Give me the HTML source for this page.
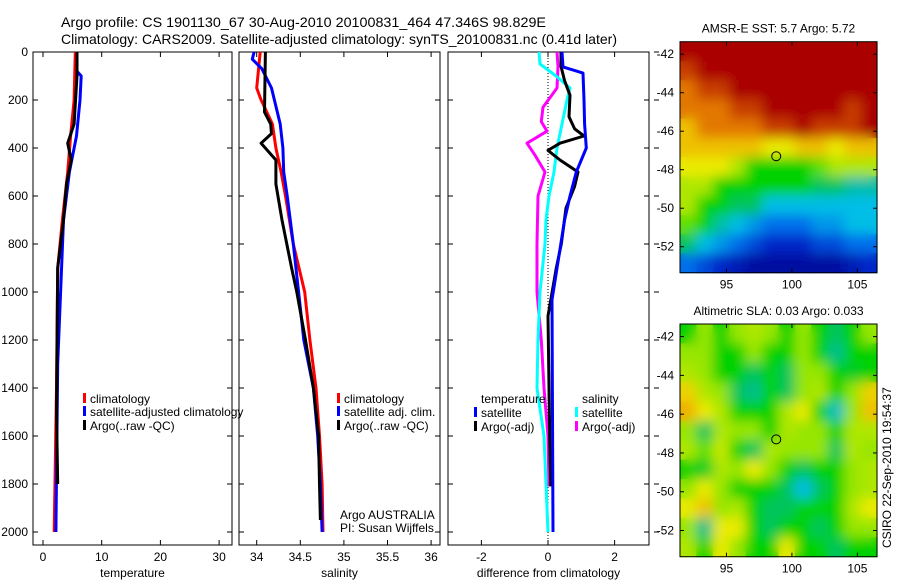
<!DOCTYPE html>
<html><head><meta charset="utf-8"><style>
html,body{margin:0;padding:0;background:#fff;}
svg{display:block;font-family:"Liberation Sans",sans-serif;}
</style></head><body>
<svg id="c" width="900" height="580" viewBox="0 0 900 580" xmlns="http://www.w3.org/2000/svg">
<defs>
<filter id="blur" x="-5%" y="-5%" width="110%" height="110%"><feGaussianBlur stdDeviation="6"/></filter>
<clipPath id="clip1"><rect x="680" y="41.7" width="197" height="231"/></clipPath>
<clipPath id="clip2"><rect x="680" y="324" width="197" height="232.7"/></clipPath>
</defs>
<text x="61" y="27" font-size="14" textLength="485" lengthAdjust="spacingAndGlyphs">Argo profile: CS 1901130_67 30-Aug-2010 20100831_464 47.346S 98.829E</text>
<text x="61" y="44" font-size="14" textLength="556" lengthAdjust="spacingAndGlyphs">Climatology: CARS2009. Satellite-adjusted climatology: synTS_20100831.nc (0.41d later)</text>
<g id="g"></g>
</svg>
<script>
// ---- depth levels and profiles ----
const depthTickLabels=[0,200,400,600,800,1000,1200,1400,1600,1800,2000];
const tempTicks=[0,10,20,30];
const salTicks=[34,34.5,35,35.5,36];
const diffTicks=[-2,0,2];
const tClimD=[0,200,350,500,700,900,1400,2000];
const tClimV=[5.5,5.3,4.7,4.2,3.3,2.5,2.3,1.9];
const tSatD=[0,80,100,200,350,500,700,1000,1300,2000];
const tSatV=[5.8,5.8,6.5,6.3,5.7,4.5,3.5,3.0,2.5,2.2];
const tArgoD=[0,100,300,380,450,550,700,900,1500,1800];
const tArgoV=[5.8,5.8,5.3,4.2,4.8,4.0,3.5,2.5,2.3,2.5];
const sClimD=[0,150,200,300,400,500,600,800,1000,1200,1400,1600,1800,2000];
const sClimV=[34.04,34.0,34.05,34.18,34.22,34.28,34.33,34.42,34.55,34.61,34.68,34.72,34.75,34.76];
const sSatD=[0,30,70,150,300,400,500,600,800,1000,1200,1400,1600,1800,2000];
const sSatV=[33.97,33.95,34.06,34.17,34.27,34.3,34.31,34.35,34.42,34.48,34.54,34.65,34.7,34.73,34.75];
const sArgoD=[0,250,300,340,380,450,550,700,900,1000,1200,1400,1600,1800,1950];
const sArgoV=[34.1,34.09,34.16,34.17,34.05,34.22,34.22,34.29,34.4,34.46,34.56,34.65,34.71,34.72,34.73];
const dTSatD=[0,62,88,200,300,400,500,600,700,1033,2000];
const dTSatV=[0.42,0.45,1.05,1.08,1.1,1.15,0.85,0.66,0.5,0.12,0.15];
const dTArgoD=[0,60,120,180,270,320,350,380,410,450,500,560,650,800,900,1100,1600,1810];
const dTArgoV=[0.39,0.39,0.5,0.66,0.63,0.8,1.08,0.36,0,0.36,0.9,0.8,0.54,0.4,0.25,0,0.05,0.08];
const dSSatD=[0,50,100,150,200,300,400,500,600,700,800,1000,1200,1400,1600,1800,2000];
const dSSatV=[-0.27,-0.24,0.24,0.66,0.57,0.42,0.27,0.18,0.03,-0.06,-0.09,-0.24,-0.3,-0.33,-0.12,-0.06,0];
const dSArgoD=[0,60,150,230,290,330,380,430,500,600,800,1000,1200,1400,1600,1810];
const dSArgoV=[0.27,0.3,0.27,-0.15,-0.2,-0.03,-0.63,-0.39,-0.09,-0.3,-0.33,-0.33,-0.2,-0.12,0,0.03];
// ---- map grids (0=dark blue .. 10=dark red) ----
const sstRows=[
[10,10,10,10,10,10,10,10,10,10,10,10],
[9,10,10,10,10,10,10,10,10,10,10,10],
[8,9,9,10,10,10,10,10,10,10,10,10],
[8,8,8,9,9,10,10,10,10,10,9,10],
[7,8,8,8,8,9,9,10,9,9,9,10],
[7,7,7,7,7,6.5,6.5,7,7,6.5,7,7],
[6.5,6.5,6.5,6,5,5,5,5,5.5,6,6,6],
[6,6,5,5,5,5,5,5,4.5,4.5,4,4],
[6,5,5,4.5,4.5,3.5,3.5,3.5,3.5,3.5,3.5,3.5],
[5.5,5,4,3.5,3,2.5,2.5,2.5,3,3,3.5,3.5],
[4.5,3.5,3,2.5,2,1.5,1.5,1.5,2,2,2.5,2.5],
[2.5,2,1.5,1,0.5,0.5,0.5,0.5,0.5,0.5,1,1.5]];
const slaRows=[
[5,5.8,5,5.8,6,5.8,5,5.8,5,4.5,5,5.8],
[5.8,5.8,5,5,5.8,5,5,5.8,5,4.2,5,5],
[6,5.8,5,5,4.5,5,4.5,5.8,5.8,5,4.8,5],
[6.8,6,5.8,4.5,4.2,5,4.5,5.8,6,5,5.8,6.8],
[7.2,6.5,6,5,5,5,6,6.5,5,3.8,5.8,7],
[5.8,4.5,6,5.8,5.8,5,6,5.8,5.8,5,6,6],
[6,5.5,6.2,5,4.5,6,5.8,5.8,5.8,4.5,6,5.8],
[5,4.8,6,5.8,6.5,5.8,5,4.5,5,5,5.8,6],
[5.8,6.5,5.8,5,5,5,4.5,3.5,4.5,5,5.8,6],
[6.5,7,5.8,6,5,4.5,4.5,5,5,5,6,6.5],
[5.8,4.2,6.5,6.5,5,4.5,5,5,4.5,5,5.8,5.8],
[6,5,6.5,5.8,5,5,6.5,5,5,4.5,5,5]];
const mapLatTicks=[-42,-44,-46,-48,-50,-52];
const mapLonTicks=[95,100,105];
const argoLon=98.8, argoLat=-47.3;

const NS="http://www.w3.org/2000/svg";
const G=document.getElementById('g');
function mk(t,a,p){const e=document.createElementNS(NS,t);for(const k in a)e.setAttribute(k,a[k]);(p||G).appendChild(e);return e;}
const yD=d=>52+d*0.24;
const panels=[
 {x0:33,x1:232,f:v=>43+v*5.87,ticks:tempTicks,label:'temperature',name:'temperature-panel'},
 {x0:239,x1:440,f:v=>256.7+(v-34)*87.2,ticks:salTicks,label:'salinity',name:'salinity-panel'},
 {x0:448,x1:649,f:v=>548+v*33.3,ticks:diffTicks,label:'difference from climatology',name:'difference-panel'}];
panels.forEach((p,i)=>{
  const g=mk('g',{});
  
  
  mk('rect',{x:p.x0,y:52,width:p.x1-p.x0,height:493,fill:'none',stroke:'#000','stroke-width':1},g);
  depthTickLabels.forEach(d=>{const y=yD(d);
    mk('line',{x1:p.x0,x2:p.x0+5,y1:y,y2:y,stroke:'#000'},g);
    mk('line',{x1:p.x1,x2:p.x1-5,y1:y,y2:y,stroke:'#000'},g);
    if(i===0){const t=mk('text',{x:28,y:y+4,'font-size':12,'text-anchor':'end'},g);t.textContent=d;}
    if(i===2){mk('line',{x1:654,x2:659,y1:y,y2:y,stroke:'#000'},g);}
  });
  p.ticks.forEach(v=>{const x=p.f(v);
    mk('line',{x1:x,x2:x,y1:545,y2:540,stroke:'#000'},g);
    mk('line',{x1:x,x2:x,y1:52,y2:57,stroke:'#000'},g);
    const t=mk('text',{x:x,y:561,'font-size':12,'text-anchor':'middle'},g);t.textContent=v;});
  const t=mk('text',{x:(p.x0+p.x1)/2,y:577,'font-size':12,'text-anchor':'middle'},g);t.textContent=p.label;
});
mk('line',{x1:548,x2:548,y1:52,y2:545,stroke:'#000','stroke-dasharray':'1,2'});
function prof(D,V,f,col,name){
  const pts=D.map((d,k)=>f(V[k]).toFixed(1)+','+yD(d).toFixed(1)).join(' ');
  const e=mk('polyline',{points:pts,fill:'none',stroke:col,'stroke-width':3,'stroke-linejoin':'round'});
  
  
}
const fT=panels[0].f,fS=panels[1].f,fD=panels[2].f;
prof(tClimD,tClimV,fT,'#f00','temp-climatology-line');
prof(tSatD,tSatV,fT,'#00f','temp-satellite-line');
prof(tArgoD,tArgoV,fT,'#000','temp-argo-line');
prof(sClimD,sClimV,fS,'#f00','sal-climatology-line');
prof(sSatD,sSatV,fS,'#00f','sal-satellite-line');
prof(sArgoD,sArgoV,fS,'#000','sal-argo-line');
prof(dSArgoD,dSArgoV,fD,'#f0f','diff-sal-argo-line');
prof(dSSatD,dSSatV,fD,'#0ff','diff-sal-satellite-line');
prof(dTArgoD,dTArgoV,fD,'#000','diff-temp-argo-line');
prof(dTSatD,dTSatV,fD,'#00f','diff-temp-satellite-line');
function leg(x,y,col,txt,name){
  const g=mk('g',{});
  
  
  mk('rect',{x:x,y:y-10,width:3,height:10,fill:col},g);
  const t=mk('text',{x:x+7,y:y,'font-size':12},g);t.textContent=txt;
}
leg(83,403,'#f00','climatology','legend-temp-climatology');
leg(83,416,'#00f','satellite-adjusted climatology','legend-temp-satellite');
leg(83,430,'#000','Argo(..raw -QC)','legend-temp-argo');
leg(337,403,'#f00','climatology','legend-sal-climatology');
leg(337,416,'#00f','satellite adj. clim.','legend-sal-satellite');
leg(337,430,'#000','Argo(..raw -QC)','legend-sal-argo');
{const t=mk('text',{x:481,y:403,'font-size':12});t.textContent='temperature';
 const t2=mk('text',{x:582,y:403,'font-size':12});t2.textContent='salinity';}
leg(474,417,'#00f','satellite','legend-diff-temp-satellite');
leg(474,431,'#000','Argo(-adj)','legend-diff-temp-argo');
leg(575,417,'#0ff','satellite','legend-diff-sal-satellite');
leg(575,431,'#f0f','Argo(-adj)','legend-diff-sal-argo');
{const t=mk('text',{x:340,y:519,'font-size':12});t.textContent='Argo AUSTRALIA';
 const t2=mk('text',{x:340,y:532,'font-size':12});t2.textContent='PI: Susan Wijffels';}
// colour palette
const palV=[0,1.5,2.5,3.5,4.3,5,5.8,6.5,7.5,9,10];
const palC=[[0,0,140],[0,40,200],[0,110,235],[0,190,230],[0,190,130],[0,210,0],[150,230,0],[235,235,0],[240,150,0],[200,60,0],[170,0,0]];
function col(v){v=Math.max(0,Math.min(10,v));let k=0;while(k<palV.length-2&&v>palV[k+1])k++;
  const t=(v-palV[k])/(palV[k+1]-palV[k]);const a=palC[k],b=palC[k+1];
  return 'rgb('+a.map((x,i)=>Math.round(x+(b[i]-x)*t)).join(',')+')';}
function drawMap(rows,top,bot,title,name,clip){
  const L=680,R=877,lon0=91.45,lon1=106.5,lat0=-41.35,lat1=-53.35;
  const fx=lo=>L+(lo-lon0)*(R-L)/(lon1-lon0);
  const fy=la=>top+(la-lat0)*(bot-top)/(lat1-lat0);
  const g=mk('g',{});
  
  
  const nr=rows.length,nc=rows[0].length,dLon=(lon1-lon0)/nc,dLat=(lat1-lat0)/nr;
  const base=mk('g',{},g);
  const soft=mk('g',{filter:'url(#blur)'},mk('g',{'clip-path':'url(#'+clip+')'},g));
  [base,soft].forEach(layer=>rows.forEach((r,i)=>r.forEach((v,j)=>{
    const x=fx(lon0+j*dLon),y=fy(lat0+i*dLat);
    const c=mk('rect',{x:x.toFixed(1),y:y.toFixed(1),width:(fx(lon0+(j+1)*dLon)-x+0.6).toFixed(1),height:(fy(lat0+(i+1)*dLat)-y+0.6).toFixed(1),fill:col(v)},layer);
    
    
  })));
  mk('rect',{x:L,y:top,width:R-L,height:bot-top,fill:'none',stroke:'#000'},g);
  mapLatTicks.forEach(la=>{const y=fy(la);
    mk('line',{x1:L,x2:L+4,y1:y,y2:y,stroke:'#000'},g);mk('line',{x1:R,x2:R-4,y1:y,y2:y,stroke:'#000'},g);
    const t=mk('text',{x:674,y:y+4,'font-size':12,'text-anchor':'end'},g);t.textContent=la;});
  mapLonTicks.forEach(lo=>{const x=fx(lo);
    mk('line',{x1:x,x2:x,y1:bot,y2:bot-4,stroke:'#000'},g);mk('line',{x1:x,x2:x,y1:top,y2:top+4,stroke:'#000'},g);
    const t=mk('text',{x:x,y:bot+16,'font-size':12,'text-anchor':'middle'},g);t.textContent=lo;});
  const c=mk('circle',{cx:fx(argoLon),cy:fy(argoLat),r:4.5,fill:'none',stroke:'#000'},g);
  
  
  const t=mk('text',{x:(L+R)/2,y:top-9,'font-size':12,'text-anchor':'middle'},g);t.textContent=title;
}
drawMap(sstRows,41.7,272.7,'AMSR-E SST: 5.7 Argo: 5.72','sst-map','clip1');
drawMap(slaRows,324,556.7,'Altimetric SLA: 0.03 Argo: 0.033','sla-map','clip2');
{const t=mk('text',{x:0,y:0,'font-size':12,transform:'translate(891,548) rotate(-90)'});t.textContent='CSIRO 22-Sep-2010 19:54:37';
 }
</script>
</body></html>
